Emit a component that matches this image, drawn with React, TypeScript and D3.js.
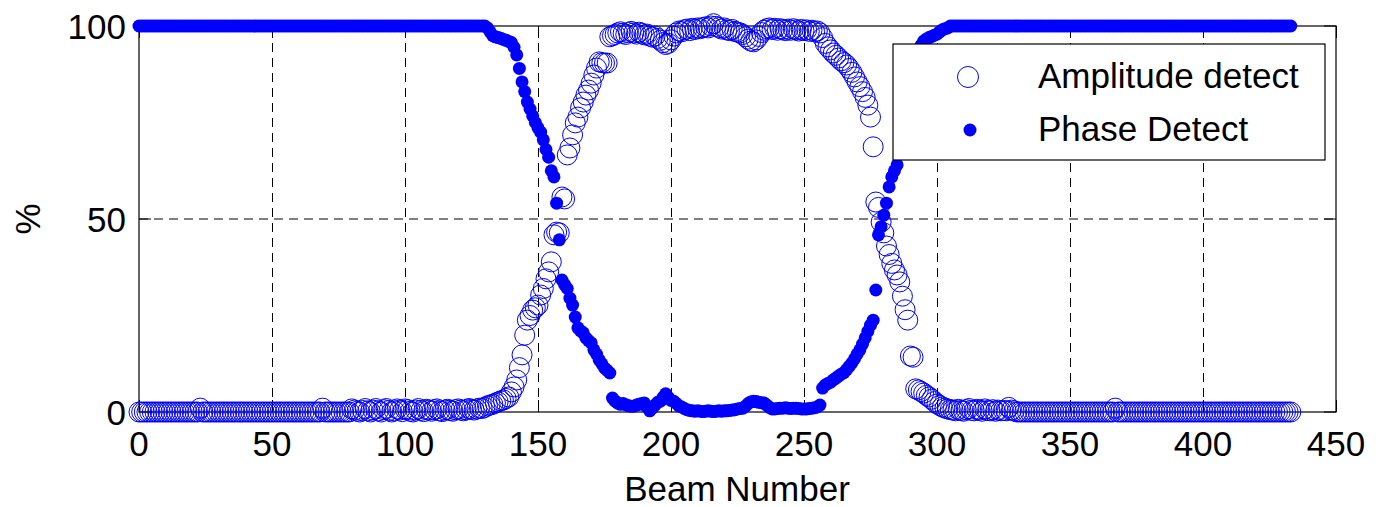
import React from "react";
import * as d3 from "d3";

// Beam numbers (x variable)
const beamNumbers: number[] = d3.range(0, 434);

// Phase Detect (%), beams 0..433, rows of ten
const phaseDetect: number[] = [
  100,100,100,100,100,100,100,100,100,100,
  100,100,100,100,100,100,100,100,100,100,
  100,100,100,100,100,100,100,100,100,100,
  100,100,100,100,100,100,100,100,100,100,
  100,100,100,100,100,100,100,100,100,100,
  100,100,100,100,100,100,100,100,100,100,
  100,100,100,100,100,100,100,100,100,100,
  100,100,100,100,100,100,100,100,100,100,
  100,100,100,100,100,100,100,100,100,100,
  100,100,100,100,100,100,100,100,100,100,
  100,100,100,100,100,100,100,100,100,100,
  100,100,100,100,100,100,100,100,100,100,
  100,100,100,100,100,100,100,100,100,100,
  100,99.5,98.5,97.5,97.2,97,96.8,96.5,96.3,96,
  95.7,94.5,92.5,89,85.5,83,80.3,78.5,76.7,75,
  73.6,72.5,70.5,68,66,62.5,60.9,54.1,44.6,34.2,
  33,32,29.5,27.7,24.6,21.8,21,20.5,19.2,18.5,
  17.9,16.1,15,13.5,12.5,11.4,10.8,10.1,3.6,2.8,
  2.3,2,2.2,1.9,1.6,1.5,1.5,1.8,2,2.2,
  2.3,1.2,0.3,1,1.8,2.5,2.8,3.8,4.7,3.8,
  3,2.8,2.2,1.6,1.3,0.9,0.6,0.4,0.3,0.2,
  0.3,0.2,0.1,0.2,0.3,0.2,0.1,0.2,0.3,0.2,
  0.3,0.3,0.4,0.5,0.6,0.8,0.9,1,1.5,2.2,
  2.6,2.8,2.7,2.5,2.4,2.3,1.8,1.2,0.8,0.8,
  0.9,1,1,1.1,1,0.9,1,1,0.9,0.8,
  0.8,0.8,0.9,1,1.1,1.3,1.8,6.2,7,7.4,
  7.7,8.3,8.8,9.3,9.8,10.2,11,11.8,12.7,13.8,
  15,16.1,17.6,19.2,20.9,22.5,23.8,31.6,45.9,48,
  51,54.1,58.3,60.9,62.5,64,67,70,74,78,
  82,86,89.5,92.5,95,96.1,96.6,97,97.3,97.6,
  97.9,98.5,99,99.3,99.5,100,100,100,100,100,
  100,100,100,100,100,100,100,100,100,100,
  100,100,100,100,100,100,100,100,100,100,
  100,100,100,100,100,100,100,100,100,100,
  100,100,100,100,100,100,100,100,100,100,
  100,100,100,100,100,100,100,100,100,100,
  100,100,100,100,100,100,100,100,100,100,
  100,100,100,100,100,100,100,100,100,100,
  100,100,100,100,100,100,100,100,100,100,
  100,100,100,100,100,100,100,100,100,100,
  100,100,100,100,100,100,100,100,100,100,
  100,100,100,100,100,100,100,100,100,100,
  100,100,100,100,100,100,100,100,100,100,
  100,100,100,100,
];

// Amplitude detect (%), beams 0..433, rows of ten
const amplitudeDetect: number[] = [
  0,0,0,0,0,0,0,0,0,0,
  0,0,0,0,0,0,0,0,0,0,
  0,0,0,1,0,0,0,0,0,0,
  0,0,0,0,0,0,0,0,0,0,
  0,0,0,0,0,0,0,0,0,0,
  0,0,0,0,0,0,0,0,0,0,
  0,0,0,0,0,0,0,0,0,1,
  0,0,0,0,0,0,0,0,0,0,
  0.8,0.5,0.2,0,0.4,0.9,0.3,0,0.5,0.9,
  0.3,0,0.6,0.9,0.4,0,0.3,0.8,0.5,0.1,
  0.8,0.6,0.2,0,0.5,0.9,0.4,0.1,0.7,0.5,
  0.2,0.6,0.8,0.3,0.1,0.5,0.7,0.4,0.2,0.6,
  0.8,0.5,0.3,0.6,0.9,0.7,0.5,0.8,1,0.9,
  1.2,1.6,1.8,2,2.3,2.6,2.9,3.1,3.5,3.9,
  5.2,6.5,8.3,11.5,14.8,19.9,23.8,25,26.4,27,
  27.7,30.3,32,34.5,36.3,38.9,45.9,46.6,46.4,55.7,
  55.2,66.6,68.4,71.8,74.9,76.4,78.8,80.3,82.1,83.4,
  85.2,87.3,89.1,90.7,90.5,90.4,90.4,97.2,97.5,97.8,
  98.2,98.5,98.1,97.8,98.3,98.6,98.2,97.9,98.4,98.1,
  97.7,97.9,97.4,97.1,97.4,96.8,96.3,95.7,95.2,95.5,
  96.4,97.4,98.2,98.7,98.5,99,99.2,98.8,99.4,99.1,
  99.5,99.3,99.6,99.8,99.5,100,100.6,99.9,99.6,99.2,
  99.5,99,98.8,99.1,98.6,98.4,98.2,97.8,97.2,96.6,
  96.1,95.9,96.4,97.3,98.3,98.9,99.3,99.5,99.1,99.4,
  98.9,99.3,99.1,98.8,99.2,98.9,99.3,99,98.7,99.1,
  98.8,99,98.6,98.9,98.5,98.7,98.2,97,95.5,94.6,
  93.8,93,92.4,91.7,91,90.5,89.9,89,88,86.8,
  85.5,84.3,83,81.5,79.5,76.4,68.7,54.4,53,49.2,
  46.4,43,40.8,38.5,36.8,35.5,33.7,30,26.5,23.8,
  14.5,14.2,6,5.7,5.3,4.9,4.3,3.9,3.3,2.7,
  2.1,1.7,1.3,1,0.8,0.6,0.5,0.3,0.7,0.4,
  0.2,0.6,0.9,0.4,0.3,0.7,0.5,0.2,0.8,0.4,
  0.3,0.6,0.2,0.5,0.3,0.4,0.3,1.2,0.5,0.3,
  0,0,0,0,0,0,0,0,0,0,
  0,0,0,0,0,0,0,0,0,0,
  0,0,0,0,0,0,0,0,0,0,
  0,0,0,0,0,0,0,1,0,0,
  0,0,0,0,0,0,0,0,0,0,
  0,0,0,0,0,0,0,0,0,0,
  0,0,0,0,0,0,0,0,0,0,
  0,0,0,0,0,0,0,0,0,0,
  0,0,0,0,0,0,0,0,0,0,
  0,0,0,0,0,0,0,0,0,0,
  0,0,0,0,
];

const xTicks: number[] = [0, 50, 100, 150, 200, 250, 300, 350, 400, 450];
const yTicks: number[] = [0, 50, 100];
const legendLabels: string[] = ["Amplitude detect", "Phase Detect"];
const xLabel = "Beam Number";
const yLabel = "%";

const W = 1376;
const H = 507;
const BLUE = "#0000ff";
const FONT = "'Liberation Sans', Arial, Helvetica, sans-serif";
const FS = 35;

const snap = (v: number) => Math.round(v) + 0.5;

export default function App() {
  const x = d3.scaleLinear().domain([0, 450]).range([139, 1336]);
  const y = d3.scaleLinear().domain([0, 100]).range([412, 26]);
  const [x0, x1] = x.range();
  const [yb, yt] = y.range();
  const tickLen = 12;

  return (
    <svg
      width={W}
      height={H}
      style={{ position: "absolute", left: 0, top: 0, background: "#fff" }}
      fontFamily={FONT}
    >
      <rect x={0} y={0} width={W} height={H} fill="#fff" />
      {/* grid */}
      {xTicks
        .filter((t) => t > 0 && t < 450)
        .map((t) => (
          <line
            key={"gx" + t}
            x1={snap(x(t))}
            x2={snap(x(t))}
            y1={yb}
            y2={yt}
            stroke="#000"
            strokeWidth={1}
            strokeDasharray="9,6"
          />
        ))}
      {yTicks
        .filter((t) => t > 0 && t < 100)
        .map((t) => (
          <line
            key={"gy" + t}
            x1={x0}
            x2={x1}
            y1={y(t)}
            y2={y(t)}
            stroke="#000"
            strokeWidth={1}
            strokeDasharray="9,6"
          />
        ))}
      {/* axes box */}
      <rect x={x0} y={yt} width={x1 - x0} height={yb - yt} fill="none" stroke="#000" strokeWidth={1.2} />
      {/* ticks */}
      {xTicks.map((t) => (
        <g key={"tx" + t}>
          <line x1={snap(x(t))} x2={snap(x(t))} y1={yb} y2={yb - tickLen} stroke="#000" />
          <line x1={snap(x(t))} x2={snap(x(t))} y1={yt} y2={yt + tickLen} stroke="#000" />
        </g>
      ))}
      {yTicks.map((t) => (
        <g key={"ty" + t}>
          <line x1={x0} x2={x0 + tickLen} y1={y(t)} y2={y(t)} stroke="#000" />
          <line x1={x1} x2={x1 - tickLen} y1={y(t)} y2={y(t)} stroke="#000" />
        </g>
      ))}
      {/* tick labels */}
      {xTicks.map((t) => (
        <text key={"lx" + t} x={x(t)} y={456} textAnchor="middle" fontSize={FS} fill="#000">
          {t}
        </text>
      ))}
      {yTicks.map((t) => (
        <text key={"ly" + t} x={126} y={y(t) + 12.5} textAnchor="end" fontSize={FS} fill="#000">
          {t}
        </text>
      ))}
      {/* axis labels */}
      <text x={737} y={501} textAnchor="middle" fontSize={FS} fill="#000">
        {xLabel}
      </text>
      <text
        transform={`translate(40,219) rotate(-90)`}
        textAnchor="middle"
        fontSize={FS}
        fill="#000"
      >
        {yLabel}
      </text>
      {/* Amplitude detect: open circles */}
      <g>
        {amplitudeDetect.map((v, i) => (
          <circle
            key={"a" + i}
            cx={x(beamNumbers[i])}
            cy={y(v)}
            r={10}
            fill="none"
            stroke={BLUE}
            strokeWidth={1}
          />
        ))}
      </g>
      {/* Phase Detect: filled dots */}
      <g>
        {phaseDetect.map((v, i) => (
          <circle key={"p" + i} cx={x(beamNumbers[i])} cy={y(v)} r={6.5} fill={BLUE} />
        ))}
      </g>
      {/* legend */}
      <g>
        <rect x={893} y={44} width={432} height={116} fill="#fff" stroke="#000" strokeWidth={1.2} />
        <circle cx={968} cy={77} r={10.5} fill="none" stroke={BLUE} strokeWidth={1} />
        <circle cx={970} cy={130} r={6.5} fill={BLUE} />
        <text x={1038} y={88} fontSize={FS} fill="#000">
          {legendLabels[0]}
        </text>
        <text x={1038} y={141} fontSize={FS} fill="#000">
          {legendLabels[1]}
        </text>
      </g>
    </svg>
  );
}
